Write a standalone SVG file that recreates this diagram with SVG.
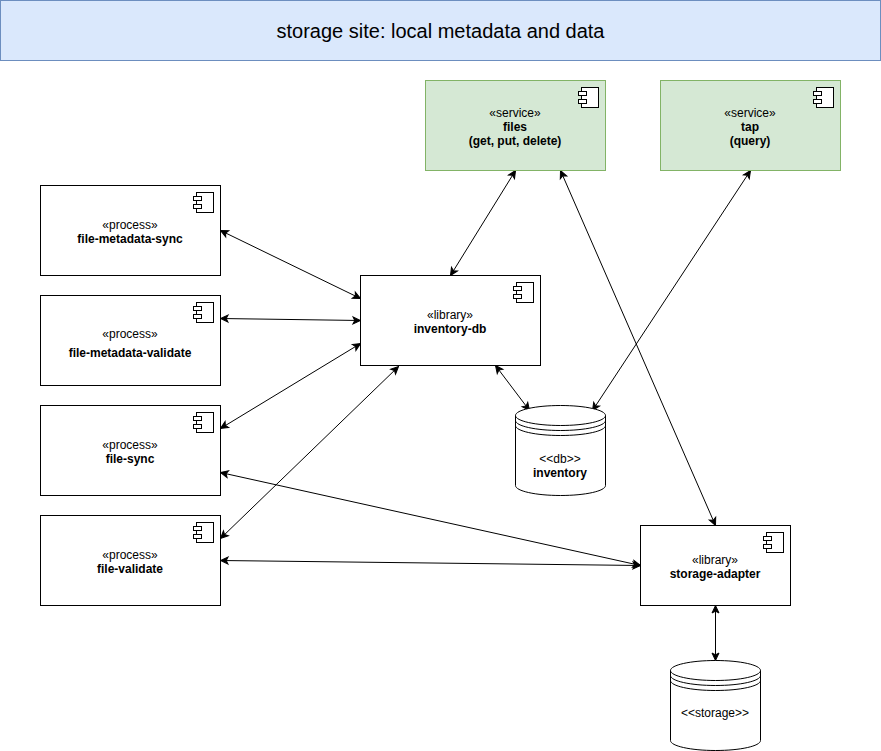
<svg xmlns="http://www.w3.org/2000/svg" width="881" height="751" viewBox="0 0 881 751">
<style>
text{font-family:"Liberation Sans",Arial,sans-serif;font-size:12px;text-anchor:middle;fill:#000}
.b{font-weight:bold}
.box{fill:#fff;stroke:#000;stroke-width:1}
.svc{fill:#d5e8d4;stroke:#82b366;stroke-width:1}
.ico{fill:#fff;stroke:#000;stroke-width:1}
.cyl{fill:#fff;stroke:#000;stroke-width:1}
.none{fill:none;stroke:#000;stroke-width:1}
.c line{stroke:#000;stroke-width:1;fill:none;marker-start:url(#a);marker-end:url(#a)}
</style>
<defs>
<marker id="a" viewBox="0 0 10 10" refX="9.5" refY="5" markerWidth="10" markerHeight="10" markerUnits="userSpaceOnUse" orient="auto-start-reverse"><path d="M2 1.5L9.500 5L2 8.500L3.800 5Z" fill="#000" stroke="#000" stroke-width="1"/></marker>
<g id="i"><rect class="ico" x="3" y="0" width="17" height="20"/><rect class="ico" x="0" y="4" width="8" height="4"/><rect class="ico" x="0" y="12" width="8" height="4"/></g>
</defs>
<g id="title"><rect x="0.500" y="0.500" width="880" height="60" fill="#dae8fc" stroke="#6c8ebf"/><text x="440.500" y="38" style="font-size:20px">storage site: local metadata and data</text></g>
<g id="connectors" class="c">
<line x1="515.500" y1="170.500" x2="450.500" y2="275.500"/>
<line x1="560.500" y1="170.500" x2="715.500" y2="525.500"/>
<line x1="750.500" y1="170.500" x2="592.500" y2="410.500"/>
<line x1="220.500" y1="230.500" x2="360.500" y2="298.500"/>
<line x1="220.500" y1="318.500" x2="360.500" y2="320.500"/>
<line x1="220.500" y1="428.500" x2="360.500" y2="343.500"/>
<line x1="220.500" y1="538.500" x2="398.500" y2="366.500"/>
<line x1="495.500" y1="365.500" x2="529.500" y2="410.500"/>
<line x1="220.500" y1="472.500" x2="640.500" y2="565.500"/>
<line x1="220.500" y1="560.500" x2="640.500" y2="565.500"/>
<line x1="715.500" y1="605.500" x2="715.500" y2="660.500"/>
</g>
<g id="files"><rect class="svc" x="425.500" y="80.500" width="180" height="90"/><use href="#i" x="578.500" y="87.500"/><text x="515" y="117">«service»</text><text class="b" x="515" y="131">files</text><text class="b" x="515" y="145">(get, put, delete)</text></g>
<g id="tap"><rect class="svc" x="660.500" y="80.500" width="180" height="90"/><use href="#i" x="813.500" y="87.500"/><text x="750" y="117">«service»</text><text class="b" x="750" y="131">tap</text><text class="b" x="750" y="145">(query)</text></g>
<g id="file-metadata-sync"><rect class="box" x="40.500" y="185.500" width="180" height="90"/><use href="#i" x="193.500" y="192.500"/><text x="130" y="229">«process»</text><text class="b" x="130" y="243">file-metadata-sync</text></g>
<g id="file-metadata-validate"><rect class="box" x="40.500" y="295.500" width="180" height="90"/><use href="#i" x="193.500" y="302.500"/><text x="130" y="338">«process»</text><text class="b" x="130" y="357">file-metadata-validate</text></g>
<g id="file-sync"><rect class="box" x="40.500" y="405.500" width="180" height="90"/><use href="#i" x="193.500" y="412.500"/><text x="130" y="449">«process»</text><text class="b" x="130" y="463">file-sync</text></g>
<g id="file-validate"><rect class="box" x="40.500" y="515.500" width="180" height="90"/><use href="#i" x="193.500" y="522.500"/><text x="130" y="559">«process»</text><text class="b" x="130" y="573">file-validate</text></g>
<g id="inventory-db"><rect class="box" x="360.500" y="275.500" width="180" height="90"/><use href="#i" x="513.500" y="282.500"/><text x="450" y="319">«library»</text><text class="b" x="450" y="333">inventory-db</text></g>
<g id="storage-adapter"><rect class="box" x="640.500" y="525.500" width="150" height="80"/><use href="#i" x="763.500" y="532.500"/><text x="715" y="564">«library»</text><text class="b" x="715" y="578">storage-adapter</text></g>
<g id="inventory"><path class="cyl" d="M515.500 415.500C515.500 410 535.600 405.500 560.500 405.500S605.500 410 605.500 415.500V485.500C605.500 491 585.400 495.500 560.500 495.500S515.500 491 515.500 485.500Z"/><path class="none" d="M515.500 415.500C515.500 421 535.600 425.500 560.500 425.500S605.500 421 605.500 415.500M515.500 420.500C515.500 426 535.600 430.500 560.500 430.500S605.500 426 605.500 420.500M515.500 425.500C515.500 431 535.600 435.500 560.500 435.500S605.500 431 605.500 425.500"/><text x="560" y="463">&lt;&lt;db&gt;&gt;</text><text class="b" x="560" y="477">inventory</text></g>
<g id="storage"><path class="cyl" d="M670.500 670.500C670.500 665 690.600 660.500 715.500 660.500S760.500 665 760.500 670.500V740.500C760.500 746 740.400 750.500 715.500 750.500S670.500 746 670.500 740.500Z"/><path class="none" d="M670.500 670.500C670.500 676 690.600 680.500 715.500 680.500S760.500 676 760.500 670.500M670.500 675.500C670.500 681 690.600 685.500 715.500 685.500S760.500 681 760.500 675.500M670.500 680.500C670.500 686 690.600 690.500 715.500 690.500S760.500 686 760.500 680.500"/><text x="715" y="717">&lt;&lt;storage&gt;&gt;</text></g>
</svg>
